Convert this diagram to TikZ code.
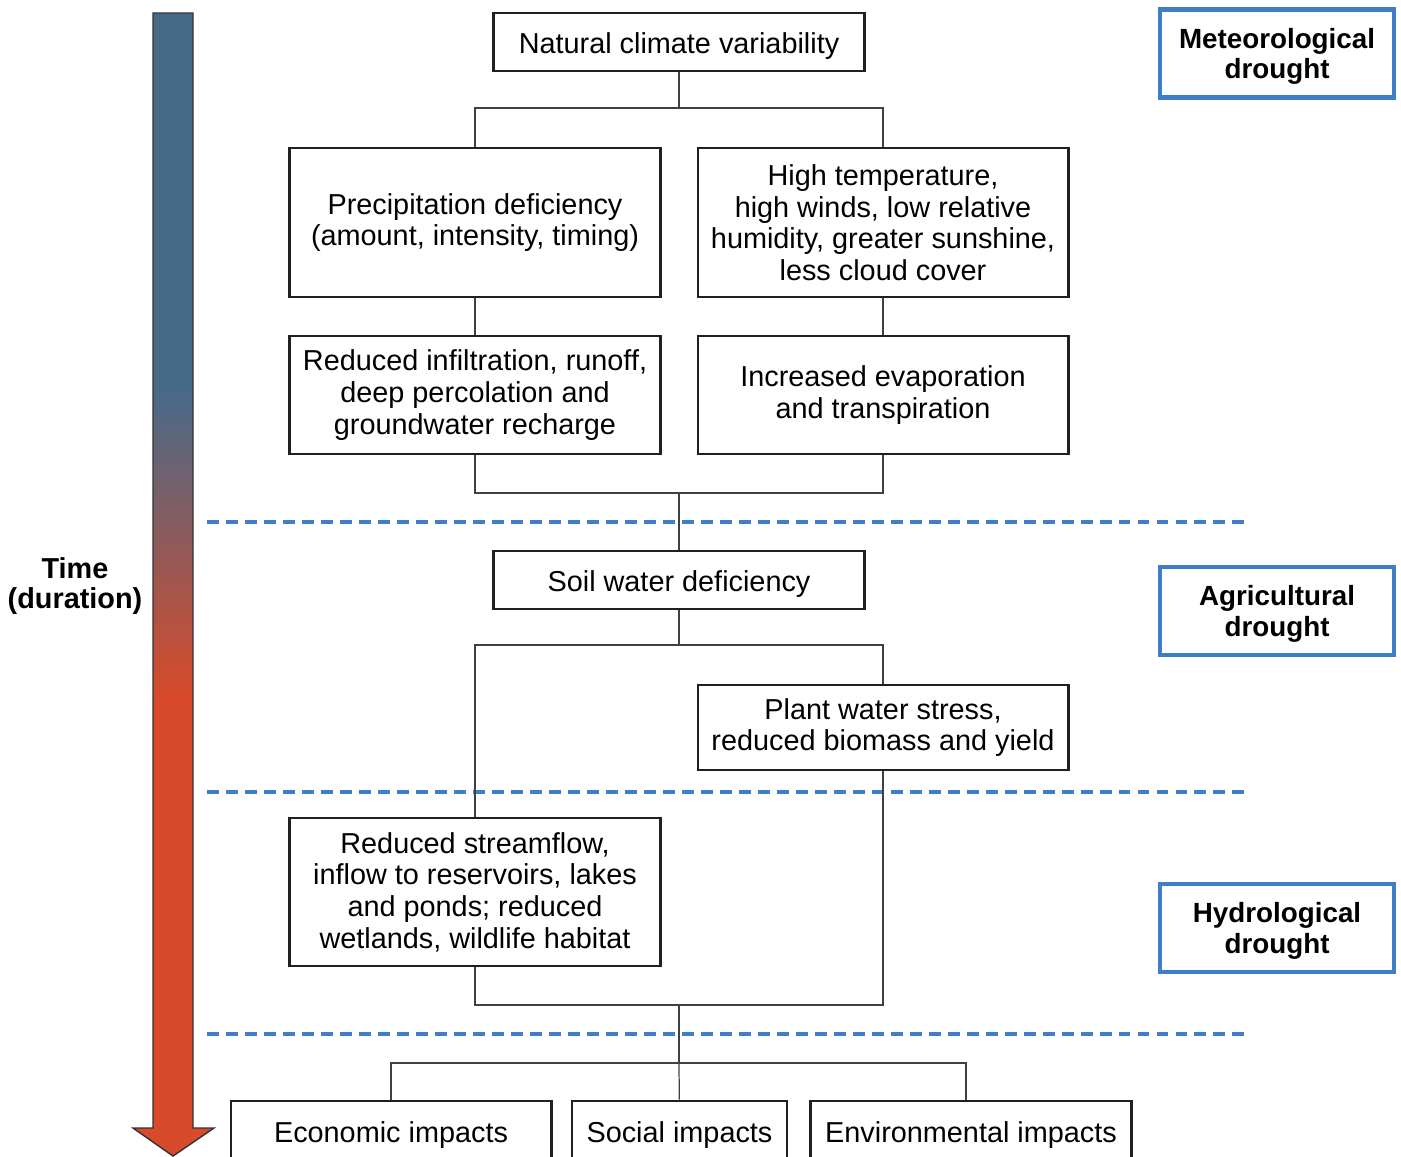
\documentclass[tikz,border=0pt]{standalone}
\usepackage{fontspec}
\setmainfont{Liberation Sans}

\definecolor{timeblue}{HTML}{486A89}
\definecolor{timered}{HTML}{D84A2A}
\definecolor{dashblue}{HTML}{3D7EC6}
\definecolor{framedark}{HTML}{231F20}

\pgfdeclareverticalshading{timebar}{100bp}{color(0bp)=(timered); color(45bp)=(timered); color(58.5bp)=(timeblue); color(100bp)=(timeblue)}

\tikzset{
    box/.style={draw=framedark, line width=0.8pt, inner sep=0pt, align=center,
        minimum width=3.70cm, font=\fontsize{8.2pt}{9pt}\selectfont},
    oneline/.style={text height=7.4pt, text depth=1.15pt},
    stage/.style={draw=dashblue, line width=1.2pt, inner sep=0pt, align=center,
        minimum width=2.34cm, minimum height=0.88cm, text height=16pt, text depth=1.7pt,
        font=\bfseries\fontsize{7.9pt}{8.6pt}\selectfont},
    link/.style={draw=black!75, line width=0.35pt},
    divider/.style={draw=dashblue, line width=0.9pt, dash pattern=on 3.4pt off 2pt},
}

\begin{document}
\begin{tikzpicture}[x=0.01cm, y=-0.01cm]
    \useasboundingbox (0,0) rectangle (1401,1156);

    % Draw time arrow
    \shadedraw[shading=timebar, draw=black!80, line width=0.4pt]
        (153,13) -- (193,13) -- (193,1128) -- (214,1128) -- (173,1156)
        -- (133,1128) -- (153,1128) -- cycle;
    \node (time) at (75,586) [align=center, font=\bfseries\fontsize{8.2pt}{8.6pt}\selectfont] {Time\\(duration)};

    % Stage dividers
    \draw[divider] (207,522) -- (1250,522);
    \draw[divider] (207,792) -- (1250,792);
    \draw[divider] (207,1034) -- (1250,1034);

    % Stage labels
    \node (meteo) at (1277,53.5) [stage] {Meteorological\\drought};
    \node (agri) at (1277,611) [stage] {Agricultural\\drought};
    \node (hydro) at (1277,928) [stage] {Hydrological\\drought};

    % Boxes
    \node (ncv) at (679,42) [box, oneline, minimum height=0.58cm] {Natural climate variability};
    \node (precip) at (475,222.5) [box, minimum height=1.49cm] {Precipitation deficiency\\(amount, intensity, timing)};
    \node (hightemp) at (883,222.5) [box, minimum height=1.49cm] {High temperature,\\high winds, low relative\\humidity, greater sunshine,\\less cloud cover};
    \node (infil) at (475,395) [box, minimum height=1.18cm] {Reduced infiltration, runoff,\\deep percolation and\\groundwater recharge};
    \node (evap) at (883,395) [box, minimum height=1.18cm] {Increased evaporation\\and transpiration};
    \node (soil) at (679,580) [box, oneline, minimum height=0.58cm] {Soil water deficiency};
    \node (plant) at (883,727.5) [box, minimum height=0.85cm] {Plant water stress,\\reduced biomass and yield};
    \node (stream) at (475,892) [box, minimum height=1.48cm] {Reduced streamflow,\\inflow to reservoirs, lakes\\and ponds; reduced\\wetlands, wildlife habitat};
    \node (econ) at (391,1131) [box, oneline, minimum width=3.20cm, minimum height=0.60cm] {Economic impacts};
    \node (social) at (679.5,1131) [box, oneline, minimum width=2.15cm, minimum height=0.60cm] {Social impacts};
    \node (env) at (971,1131) [box, oneline, minimum width=3.21cm, minimum height=0.60cm] {Environmental impacts};

    % Connectors
    \coordinate (split1) at (679,108);
    \coordinate (merge1) at (679,493);
    \coordinate (split2) at (679,645);
    \coordinate (merge2) at (679,1005);
    \coordinate (split3) at (679,1063);

    \draw[link] (ncv) -- (split1);
    \draw[link] (precip.north) |- (split1) -| (hightemp.north);
    \draw[link] (precip) -- (infil);
    \draw[link] (hightemp) -- (evap);
    \draw[link] (infil.south) |- (merge1) -| (evap.south);
    \draw[link] (merge1) -- (soil);
    \draw[link] (soil) -- (split2);
    \draw[link] (stream.north) |- (split2) -| (plant.north);
    \draw[link] (stream.south) |- (merge2) -| (plant.south);
    \draw[link] (merge2) -- (split3);
    \draw[link] (econ.north) |- (split3) -| ([xshift=-0.05cm]env.north);
    \draw[link] (split3) -- (social);
\end{tikzpicture}
\end{document}
